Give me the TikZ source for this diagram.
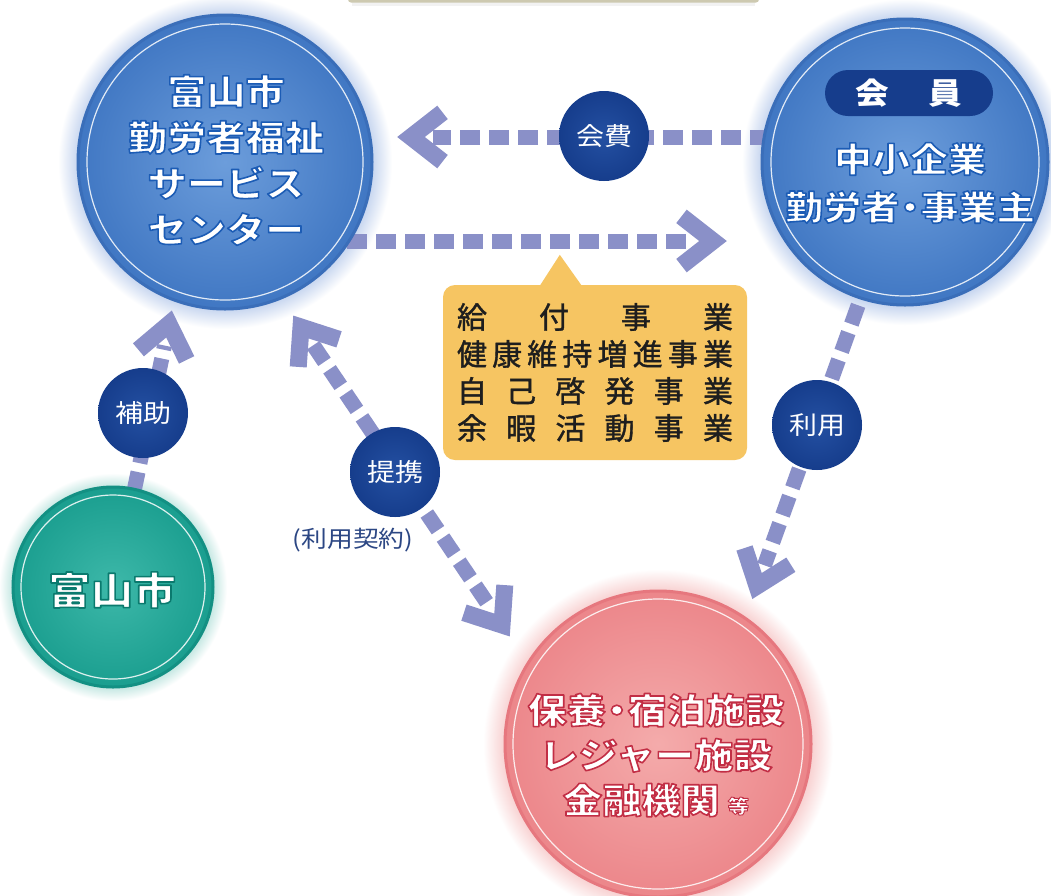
\documentclass[tikz,border=0pt]{standalone}
\usepackage{fontspec}
\setmainfont{Noto Sans CJK JP}
\newfontfamily\wide[FakeStretch=1.12]{Noto Sans CJK JP}
\newfontfamily\medf[FakeBold=1.2]{Noto Sans CJK JP}
\usetikzlibrary{calc}

\definecolor{arrowc}{HTML}{8A90C8}
\definecolor{navy}{HTML}{163D8C}
\definecolor{navyin}{HTML}{2450A2}
\definecolor{blueIn}{HTML}{6C9DDB}
\definecolor{blueOut}{HTML}{4077C3}
\definecolor{blueEdge}{HTML}{3A6EB9}
\definecolor{blueGlow}{HTML}{C6D5EF}
\definecolor{tealIn}{HTML}{3DB8A9}
\definecolor{tealOut}{HTML}{1A9E8F}
\definecolor{tealEdge}{HTML}{139083}
\definecolor{tealGlow}{HTML}{C4E7E2}
\definecolor{pinkIn}{HTML}{F4ABAB}
\definecolor{pinkOut}{HTML}{EC868A}
\definecolor{pinkEdge}{HTML}{E6777E}
\definecolor{pinkGlow}{HTML}{F8D2D2}
\definecolor{callc}{HTML}{F6C562}
\definecolor{ktext}{HTML}{1E1E1E}
\definecolor{notec}{HTML}{2C4784}
\definecolor{topedge}{HTML}{CDC9B0}
\colorlet{glowc}{blueGlow}

% outline colours for the white titles (rgb triples)
\def\olblue{0.11 0.36 0.71}
\def\olteal{0.04 0.48 0.43}
\def\olpink{0.76 0.18 0.27}

\pgfdeclareradialshading[glowc]{glowsh}{\pgfpoint{0bp}{0bp}}{color(0bp)=(glowc); color(22bp)=(glowc); color(25bp)=(white); color(50bp)=(white)}

% white text with a coloured outline (fill + stroke render mode)
\newcommand\olt[3][1.6]{\special{pdf:literal direct 2 Tr #1 w 1 j #2 RG}#3\special{pdf:literal direct 0 Tr 0 j}}
\newcommand\hdot{{\kern-.25em}・{\kern-.25em}}

\newcommand\chevat[2]{% #1 point behind, #2 corner
  \draw[chev] let \p1=($(#2)-(#1)$), \n1={atan2(\y1,\x1)} in
    ($(#2)+(\n1+142:40pt)$) -- (#2) -- ($(#2)+(\n1-142:40pt)$);}

\tikzset{
  dline/.style={arrowc, line width=15pt, dash pattern=on 20pt off 9pt},
  chev/.style={arrowc, line width=17pt, line join=miter, miter limit=10},
  bigc/.style={circle, inner sep=0pt, line width=3pt},
  bluec/.style={bigc, draw=blueEdge, inner color=blueIn, outer color=blueOut},
  tealc/.style={bigc, draw=tealEdge, inner color=tealIn, outer color=tealOut},
  pinkc/.style={bigc, draw=pinkEdge, inner color=pinkIn, outer color=pinkOut},
  ring/.style={white, line width=1.2pt, opacity=.85},
  bigtxt/.style={text=white, align=center, inner sep=0pt, font=\wide\bfseries\fontsize{35}{46}\selectfont},
  lab/.style={circle, minimum size=90pt, inner sep=0pt, inner color=navyin, outer color=navy, text=white, font=\wide\fontsize{25}{25}\selectfont},
  pill/.style={rectangle, rounded corners=23pt, fill=navy, minimum width=168pt, minimum height=46pt, inner sep=0pt, text=white, font=\wide\bfseries\fontsize{30}{30}\selectfont},
  callout/.style={rectangle, rounded corners=12pt, fill=callc, minimum width=304pt, minimum height=175pt, inner sep=0pt, text=ktext, align=center, font=\medf\fontsize{30}{37}\selectfont},
}

\begin{document}
\begin{tikzpicture}[x=1pt, y=-1pt]
\useasboundingbox (0,0) rectangle (1051,895);
\clip (0,0) rectangle (1051,895);
\fill[white] (0,0) rectangle (1051,895);

% partial box at the top edge
\fill[black!5] (352,2) rectangle (755,6);
\fill[topedge, rounded corners=3pt] (348,-10) rectangle (759,2.5);

% glows
\colorlet{glowc}{blueGlow}
\shade[shading=glowsh] (225,162) circle (167pt);
\shade[shading=glowsh] (905,162) circle (163pt);
\colorlet{glowc}{tealGlow}
\shade[shading=glowsh] (113,587) circle (114pt);
\colorlet{glowc}{pinkGlow}
\shade[shading=glowsh] (658,744) circle (175pt);

% arrow end points
\coordinate (a1s) at (770,137);
\coordinate (a1t) at (411,137);
\coordinate (a2s) at (318,241);
\coordinate (a2t) at (713,241);
\coordinate (a3s) at (128,520);
\coordinate (a3t) at (169,324);
\coordinate (a4a) at (301,327);
\coordinate (a4b) at (502,625);
\coordinate (a5s) at (868,278);
\coordinate (a5t) at (757,586);

% arrows
\draw[dline] (a1s) -- ($(a1t)!22pt!(a1s)$);
\chevat{a1s}{a1t}
\draw[dline] (a2s) -- ($(a2t)!22pt!(a2s)$);
\chevat{a2s}{a2t}
\draw[dline] (a3s) -- ($(a3t)!22pt!(a3s)$);
\chevat{a3s}{a3t}
\draw[dline] ($(a4a)!22pt!(a4b)$) -- ($(a4b)!22pt!(a4a)$);
\chevat{a4b}{a4a}
\chevat{a4a}{a4b}
\draw[dline] (a5s) -- ($(a5t)!22pt!(a5s)$);
\chevat{a5s}{a5t}

% callout
\node[callout] (box) at (595,372.5) {%
\makebox[276pt]{給\hfill 付\hfill 事\hfill 業}\\
\makebox[276pt]{健\hfill 康\hfill 維\hfill 持\hfill 増\hfill 進\hfill 事\hfill 業}\\
\makebox[276pt]{自\hfill 己\hfill 啓\hfill 発\hfill 事\hfill 業}\\
\makebox[276pt]{余\hfill 暇\hfill 活\hfill 動\hfill 事\hfill 業}};
\fill[callc] ($(box.north west)+(97,1)$) -- ($(box.north west)+(117,-30)$) -- ($(box.north west)+(139,1)$) -- cycle;

% big circles
\node[bluec, minimum size=294pt] (svc) at (225,162) {};
\draw[ring] (svc.center) circle (138pt);
\begin{scope}
\node[bigtxt] (svct) at (226,160) {\olt{\olblue}{富山市}\\\olt{\olblue}{勤労者福祉}\\\olt{\olblue}{サービス}\\\olt{\olblue}{センター}};
\end{scope}

\node[bluec, minimum size=286pt] (mem) at (905,162) {};
\draw[ring] (mem.center) circle (134pt);
\node[pill] (memtag) at (909,93) {会\hspace{40pt}員};
\begin{scope}
\node[bigtxt, font=\wide\bfseries\fontsize{34}{48}\selectfont] (memt) at (910,183) {\olt{\olblue}{中小企業}\\\olt{\olblue}{勤労者\hdot 事業主}};
\end{scope}

\node[tealc, minimum size=200pt] (city) at (113,587) {};
\draw[ring] (city.center) circle (92pt);
\begin{scope}
\node[bigtxt, font=\wide\bfseries\fontsize{38}{40}\selectfont] (cityt) at (112,590) {\olt{\olteal}{富山市}};
\end{scope}

\node[pinkc, minimum size=306pt] (faci) at (658,744) {};
\draw[ring] (faci.center) circle (145pt);
\begin{scope}
\node[bigtxt, font=\wide\bfseries\fontsize{35}{45}\selectfont] (facit) at (656,755) {\olt{\olpink}{保養\hdot 宿泊施設}\\\olt{\olpink}{レジャー施設}\\\olt{\olpink}{金融機関}\hspace{8pt}\olt[0.9]{\olpink}{\fontsize{19}{19}\selectfont 等}};
\end{scope}

% label circles
\node[lab] (kaihi) at (604,136) {会費};
\node[lab] (hojo) at (143,413) {補助};
\node[lab] (teikei) at (395,472) {提携};
\node[lab] (riyo) at (817,425) {利用};
\node[text=notec, inner sep=0pt, font=\wide\fontsize{23}{23}\selectfont] (keiyaku) at (353,540) {(利用契約)};
\end{tikzpicture}
\end{document}
